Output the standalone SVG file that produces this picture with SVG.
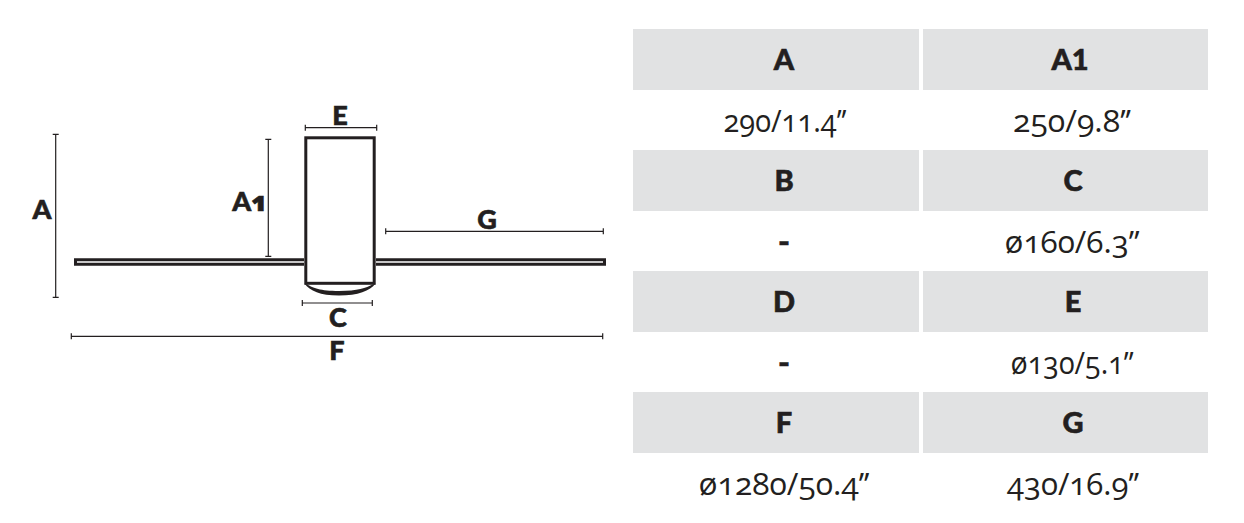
<svg xmlns="http://www.w3.org/2000/svg" width="1244" height="523" viewBox="0 0 1244 523">
<style>
.cell{fill:#e1e2e3}
.dim{fill:none;stroke:#231f20;stroke-width:1.2}
.thick{fill:none;stroke:#231f20;stroke-width:3}
.h{font-family:"Lato","Noto Sans",sans-serif;font-weight:900;font-size:29px;fill:#231f20;stroke:#231f20;stroke-width:.6;text-anchor:middle}
.l{font-family:"Lato","Noto Sans",sans-serif;font-weight:900;font-size:27px;fill:#231f20;stroke:#231f20;stroke-width:.6;text-anchor:middle}
.one{font-family:"Open Sans",sans-serif;font-variant-numeric:oldstyle-nums}
.v{font-family:"Open Sans","Lato",sans-serif;font-size:31px;fill:#231f20;text-anchor:middle;font-variant-numeric:oldstyle-nums}
.d{font-family:"Lato","Noto Sans",sans-serif;font-weight:900;font-size:31px;fill:#231f20;stroke:#231f20;stroke-width:.6;text-anchor:middle}
</style>
<rect width="1244" height="523" fill="#fff"/>
<g id="fan">
<path class="thick" d="M304 259.8H75.5V264.2H304M376 259.8H604.5V264.2H376"/>
<rect class="thick" x="305.8" y="137.8" width="68.4" height="145.5"/>
<path d="M304.5 283.5C310 291 320 295.5 339 295.5C358 295.5 370 291 375.5 283.5L372.5 284.5C366 288 358 291 339 291C320 291 313 288 307.5 284.5Z" fill="#231f20"/>
</g>
<g id="connectors">
<path class="dim" d="M55.7 134.3V297.3M52.7 134.3H58.7M52.7 297.3H58.7"/>
<path class="dim" d="M268.3 139.3V256.3M265.3 139.3H271.3M265.3 256.3H271.3"/>
<path class="dim" d="M305.3 127.7H376.7M305.3 124.7V130.7M376.7 124.7V130.7"/>
<path class="dim" d="M385.7 231.3H603.3M385.7 228.3V234.3M603.3 228.3V234.3"/>
<path class="dim" d="M302.3 303H372.3M302.3 300V306M372.3 300V306"/>
<path class="dim" d="M71.3 336.3H602.7M71.3 333.3V339.3M602.7 333.3V339.3"/>
</g>
<g id="label-A"><text class="l" x="42" y="219">A</text></g>
<g id="label-A1"><text class="l" x="250" y="211">A<tspan class="one">1</tspan></text></g>
<g id="label-E"><text class="l" x="340" y="125">E</text></g>
<g id="label-G"><text class="l" x="487" y="229">G</text></g>
<g id="label-C"><text class="l" x="338" y="327">C</text></g>
<g id="label-F"><text class="l" x="337" y="360">F</text></g>
<g id="table">
<rect class="cell" x="633" y="29" width="286" height="61"/><rect class="cell" x="923" y="29" width="285" height="61"/>
<rect class="cell" x="633" y="150" width="286" height="61"/><rect class="cell" x="923" y="150" width="285" height="61"/>
<rect class="cell" x="633" y="271" width="286" height="61"/><rect class="cell" x="923" y="271" width="285" height="61"/>
<rect class="cell" x="633" y="392" width="286" height="61"/><rect class="cell" x="923" y="392" width="285" height="61"/>
<text class="h" x="784" y="70">A</text><text class="h" x="1070" y="70">A1</text>
<text class="v" x="785" y="132" textLength="123" lengthAdjust="spacingAndGlyphs">290/11.4’’</text><text class="v" x="1072" y="132" textLength="118" lengthAdjust="spacingAndGlyphs">250/9.8’’</text>
<text class="h" x="784" y="191">B</text><text class="h" x="1073" y="191">C</text>
<text class="d" x="784" y="253" textLength="12" lengthAdjust="spacingAndGlyphs">-</text><text class="v" x="1072" y="253" textLength="135" lengthAdjust="spacingAndGlyphs">ø160/6.3’’</text>
<text class="h" x="784" y="312">D</text><text class="h" x="1073" y="312">E</text>
<text class="d" x="784" y="374" textLength="12" lengthAdjust="spacingAndGlyphs">-</text><text class="v" x="1072" y="374" textLength="123" lengthAdjust="spacingAndGlyphs">ø130/5.1’’</text>
<text class="h" x="784" y="433">F</text><text class="h" x="1073" y="433">G</text>
<text class="v" x="784" y="495" textLength="171" lengthAdjust="spacingAndGlyphs">ø1280/50.4’’</text><text class="v" x="1073" y="495" textLength="132" lengthAdjust="spacingAndGlyphs">430/16.9’’</text>
</g>
</svg>
